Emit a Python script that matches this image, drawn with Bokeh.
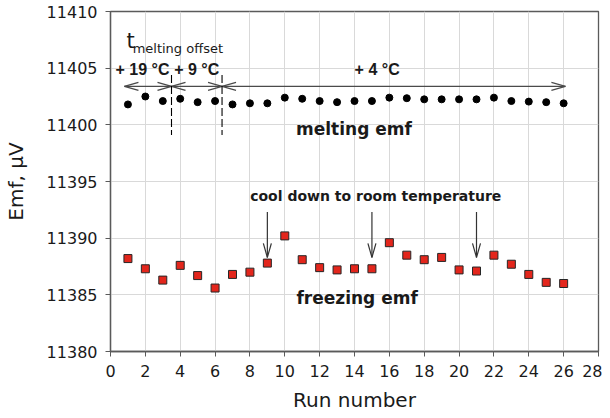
from bokeh.plotting import figure
from bokeh.models import Range1d, Label, FixedTicker, NumeralTickFormatter
from bokeh.embed import file_html
from bokeh.resources import INLINE

# ---------------- data ----------------
runs = list(range(1, 27))
melting_emf = [11401.8, 11402.5, 11402.1, 11402.3, 11402.0, 11402.1, 11401.8, 11401.9,
               11401.9, 11402.4, 11402.3, 11402.1, 11402.0, 11402.1, 11402.1, 11402.4,
               11402.35, 11402.25, 11402.25, 11402.25, 11402.25, 11402.4, 11402.1, 11402.05,
               11402.0, 11401.9]
freezing_emf = [11388.2, 11387.3, 11386.3, 11387.6, 11386.7, 11385.6, 11386.8, 11387.0,
                11387.8, 11390.2, 11388.1, 11387.4, 11387.2, 11387.3, 11387.3, 11389.6,
                11388.5, 11388.1, 11388.3, 11387.2, 11387.1, 11388.5, 11387.7, 11386.8,
                11386.1, 11386.0]
cool_down_runs = [9, 15, 21]
offset_bounds = [0.8, 3.5, 6.4, 26.1]          # melting-offset interval boundaries (run axis)
offset_labels = ["+ 19 \u00b0C", "+ 9 \u00b0C", "+ 4 \u00b0C"]
x_ticks = list(range(0, 29, 2))
y_ticks = list(range(11380, 11411, 5))

# ---------------- figure ----------------
FW, FH = 488, 340
X0, X1, Y0, Y1 = 0, 28, 11380, 11410
SX = FW / (X1 - X0)
SY = FH / (Y1 - Y0)
FONT = "DejaVu Sans"
TXT = "#1a1a1a"
AX = "#5a5a5a"

p = figure(frame_width=FW, frame_height=FH,
           x_range=Range1d(X0, X1), y_range=Range1d(Y0, Y1),
           output_backend="svg", toolbar_location=None,
           min_border_left=106, min_border_right=4, min_border_top=11, min_border_bottom=50)
p.background_fill_color = "white"
p.outline_line_color = AX
p.outline_line_width = 1.3

p.xaxis.ticker = FixedTicker(ticks=x_ticks)
p.yaxis.ticker = FixedTicker(ticks=y_ticks)
p.yaxis.formatter = NumeralTickFormatter(format="0")
p.xaxis.axis_label = "Run number"
p.yaxis.axis_label = "Emf, \u00b5V"
for ax in (p.xaxis[0], p.yaxis[0]):
    ax.axis_line_color = AX
    ax.axis_line_width = 1.3
    ax.major_tick_line_color = AX
    ax.major_tick_out = 5
    ax.major_tick_in = 0
    ax.minor_tick_line_color = None
    ax.major_label_text_font = FONT
    ax.major_label_text_font_size = "16px"
    ax.major_label_text_color = TXT
    ax.axis_label_text_font = FONT
    ax.axis_label_text_font_size = "20px"
    ax.axis_label_text_font_style = "normal"
    ax.axis_label_text_color = TXT
    ax.major_label_standoff = 8
p.xaxis.axis_label_standoff = 8
p.yaxis.axis_label_standoff = 16

p.xgrid.grid_line_color = "#d9d9d9"
p.ygrid.grid_line_color = "#d9d9d9"
p.xgrid.ticker = FixedTicker(ticks=x_ticks)
p.ygrid.ticker = FixedTicker(ticks=y_ticks)


def head(xt, yt, ux, uy, L=14, W=4):
    """open V arrow head at tip (xt,yt), pointing along screen unit vector (ux,uy)"""
    bx, by = -L * ux, -L * uy
    px, py = -uy * W, ux * W
    xs, ys = [], []
    for s in (1, -1):
        xs.append([xt, xt + (bx + s * px) / SX])
        ys.append([yt, yt + (by + s * py) / SY])
    return xs, ys


# melting offset arrows
y_arr = 11403.4
hx, hy = [], []
for a, b in zip(offset_bounds[:-1], offset_bounds[1:]):
    hx.append([a, b]); hy.append([y_arr, y_arr])
    for tip, d in ((a, -1), (b, 1)):
        xs, ys = head(tip, y_arr, d, 0)
        hx += xs; hy += ys
p.multi_line(hx, hy, line_color="#4a4a4a", line_width=1.2)

# dashed separators
for xb in offset_bounds[1:3]:
    p.line([xb, xb], [11404.4, 11399.1], line_color="black", line_width=1.1, line_dash="8 3")

# cool-down arrows
cx, cy = [], []
for r in cool_down_runs:
    tip = 11388.3
    cx.append([r, r]); cy.append([11392.3, tip])
    xs, ys = head(r, tip, 0, -1)
    cx += xs; cy += ys
p.multi_line(cx, cy, line_color="#333333", line_width=1.2)

# data
p.scatter(runs, melting_emf, marker="circle", size=7, fill_color="black", line_color="black")
p.scatter(runs, freezing_emf, marker="square", size=8, fill_color="#e3261c",
          line_color="#262626", line_width=1)


def lab(x, y, text, size, bold=False, align="center", baseline="middle", font=FONT):
    p.add_layout(Label(x=x, y=y, text=text, text_font=font, text_font_size=size,
                       text_font_style="bold" if bold else "normal", text_color=TXT,
                       text_align=align, text_baseline=baseline))


lab(0.92, 11407.36, "t", "21px", align="left", baseline="alphabetic")
lab(1.27, 11406.74, "melting offset", "13px", align="left", baseline="alphabetic")
for xc, t in zip([1.84, 4.95, 15.3], offset_labels):
    lab(xc, 11404.9, t, "16px", bold=True, font="Liberation Sans")
lab(13.97, 11399.6, "melting emf", "17px", bold=True)
lab(14.15, 11384.7, "freezing emf", "17px", bold=True)
lab(15.22, 11393.75, "cool down to room temperature", "14px", bold=True)

open("out.html", "w").write(file_html(p, INLINE))
